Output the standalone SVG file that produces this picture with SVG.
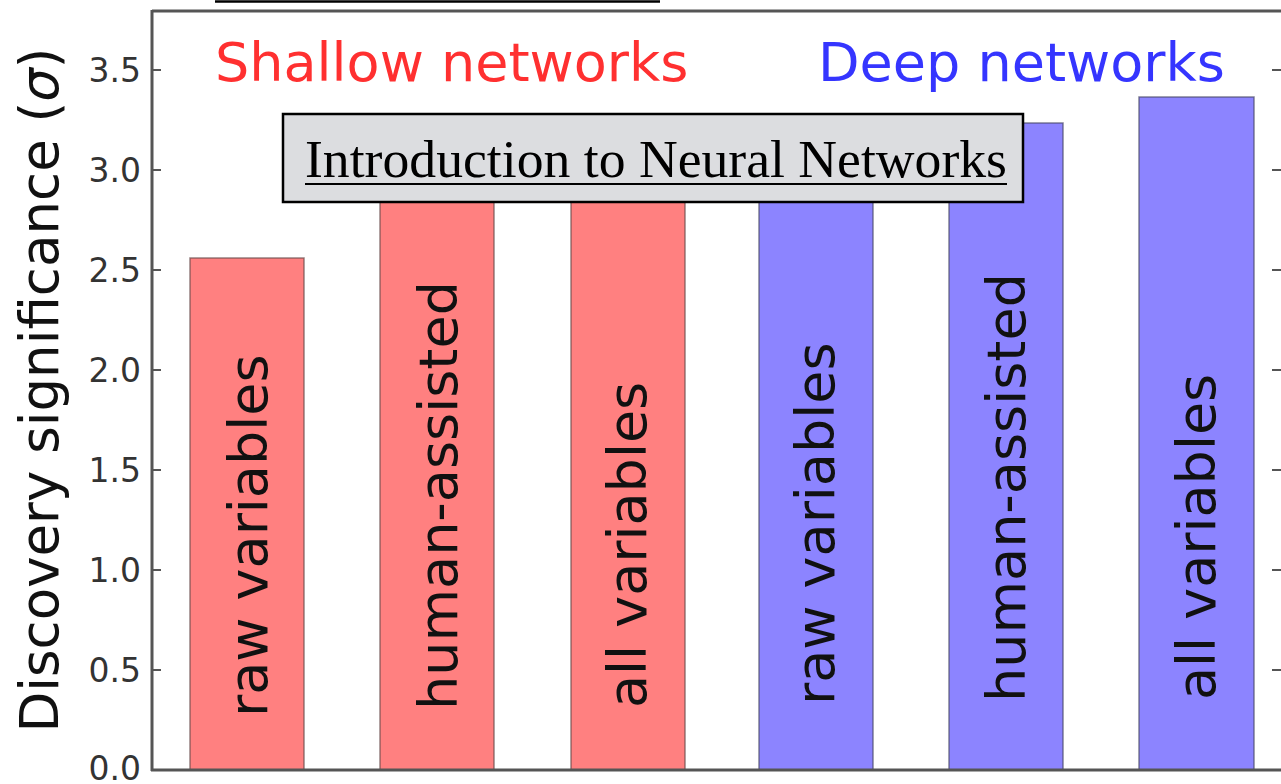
<svg xmlns="http://www.w3.org/2000/svg" width="1281" height="784" viewBox="0 0 1281 784">
<style>
.bar-r{fill:#ff8080;stroke:#6a4a4a;stroke-width:1.5;stroke-opacity:0.7}
.bar-b{fill:#8c84ff;stroke:#4a4a6a;stroke-width:1.5;stroke-opacity:0.7}
.lbl{font-family:"DejaVu Sans",sans-serif;font-size:54px;fill:#111}
.tick{font-family:"DejaVu Sans",sans-serif;font-size:33px;fill:#333;text-anchor:end}
.tk{stroke:#555;stroke-width:2}
.spine{stroke:#555;stroke-width:3;fill:none}
</style>
<rect width="1281" height="784" fill="#ffffff"/>
<line x1="215" y1="1.5" x2="660" y2="1.5" stroke="#000" stroke-width="2.5"/>

<g id="bars">
<rect class="bar-r" x="190" y="258" width="114" height="512"/>
<rect class="bar-r" x="380" y="150" width="114" height="620"/>
<rect class="bar-r" x="571" y="150" width="114" height="620"/>
<rect class="bar-b" x="759" y="150" width="114" height="620"/>
<rect class="bar-b" x="949" y="123" width="114" height="647"/>
<rect class="bar-b" x="1139" y="97" width="115" height="673"/>
</g>

<g id="axes">
<line class="spine" x1="152" y1="11" x2="1281" y2="11" stroke="#777"/>
<line class="spine" x1="152" y1="10" x2="152" y2="771"/>
<line class="spine" x1="151" y1="770" x2="1281" y2="770"/>
<g class="tk">
<line x1="152" y1="670" x2="161" y2="670"/>
<line x1="152" y1="570" x2="161" y2="570"/>
<line x1="152" y1="470" x2="161" y2="470"/>
<line x1="152" y1="370" x2="161" y2="370"/>
<line x1="152" y1="270" x2="161" y2="270"/>
<line x1="152" y1="170" x2="161" y2="170"/>
<line x1="152" y1="70" x2="161" y2="70"/>
<line x1="1272" y1="670" x2="1281" y2="670"/>
<line x1="1272" y1="570" x2="1281" y2="570"/>
<line x1="1272" y1="470" x2="1281" y2="470"/>
<line x1="1272" y1="370" x2="1281" y2="370"/>
<line x1="1272" y1="270" x2="1281" y2="270"/>
<line x1="1272" y1="170" x2="1281" y2="170"/>
<line x1="1272" y1="70" x2="1281" y2="70"/>
</g>
<text class="tick" x="141" y="780">0.0</text>
<text class="tick" x="141" y="682">0.5</text>
<text class="tick" x="141" y="582">1.0</text>
<text class="tick" x="141" y="482">1.5</text>
<text class="tick" x="141" y="382">2.0</text>
<text class="tick" x="141" y="282">2.5</text>
<text class="tick" x="141" y="182">3.0</text>
<text class="tick" x="141" y="82">3.5</text>
<text transform="translate(58,390) rotate(-90)" text-anchor="middle" font-family="DejaVu Sans,sans-serif" font-size="53" fill="#111">Discovery significance (<tspan font-style="italic">σ</tspan>)</text>
</g>

<g id="labels">
<text class="lbl" transform="translate(267,717) rotate(-90)">raw variables</text>
<text class="lbl" transform="translate(457,710) rotate(-90)">human-assisted</text>
<text class="lbl" transform="translate(646,708) rotate(-90)">all variables</text>
<text class="lbl" transform="translate(834,705) rotate(-90)">raw variables</text>
<text class="lbl" transform="translate(1025,702) rotate(-90)">human-assisted</text>
<text class="lbl" transform="translate(1215,700) rotate(-90)">all variables</text>
</g>

<g id="legend">
<text x="215" y="81" font-family="DejaVu Sans,sans-serif" font-size="54" fill="#ff3030">Shallow networks</text>
<text x="818" y="81" font-family="DejaVu Sans,sans-serif" font-size="54" fill="#3535ff">Deep networks</text>
</g>

<g id="title">
<rect x="283" y="114" width="740" height="88" fill="#dcdde0" stroke="#000" stroke-width="2.5"/>
<text x="305" y="177" font-family="Liberation Serif,serif" font-size="52" fill="#000" textLength="702" lengthAdjust="spacingAndGlyphs">Introduction to Neural Networks</text>
<line x1="305" y1="184" x2="1007" y2="184" stroke="#000" stroke-width="2"/>
</g>
</svg>
